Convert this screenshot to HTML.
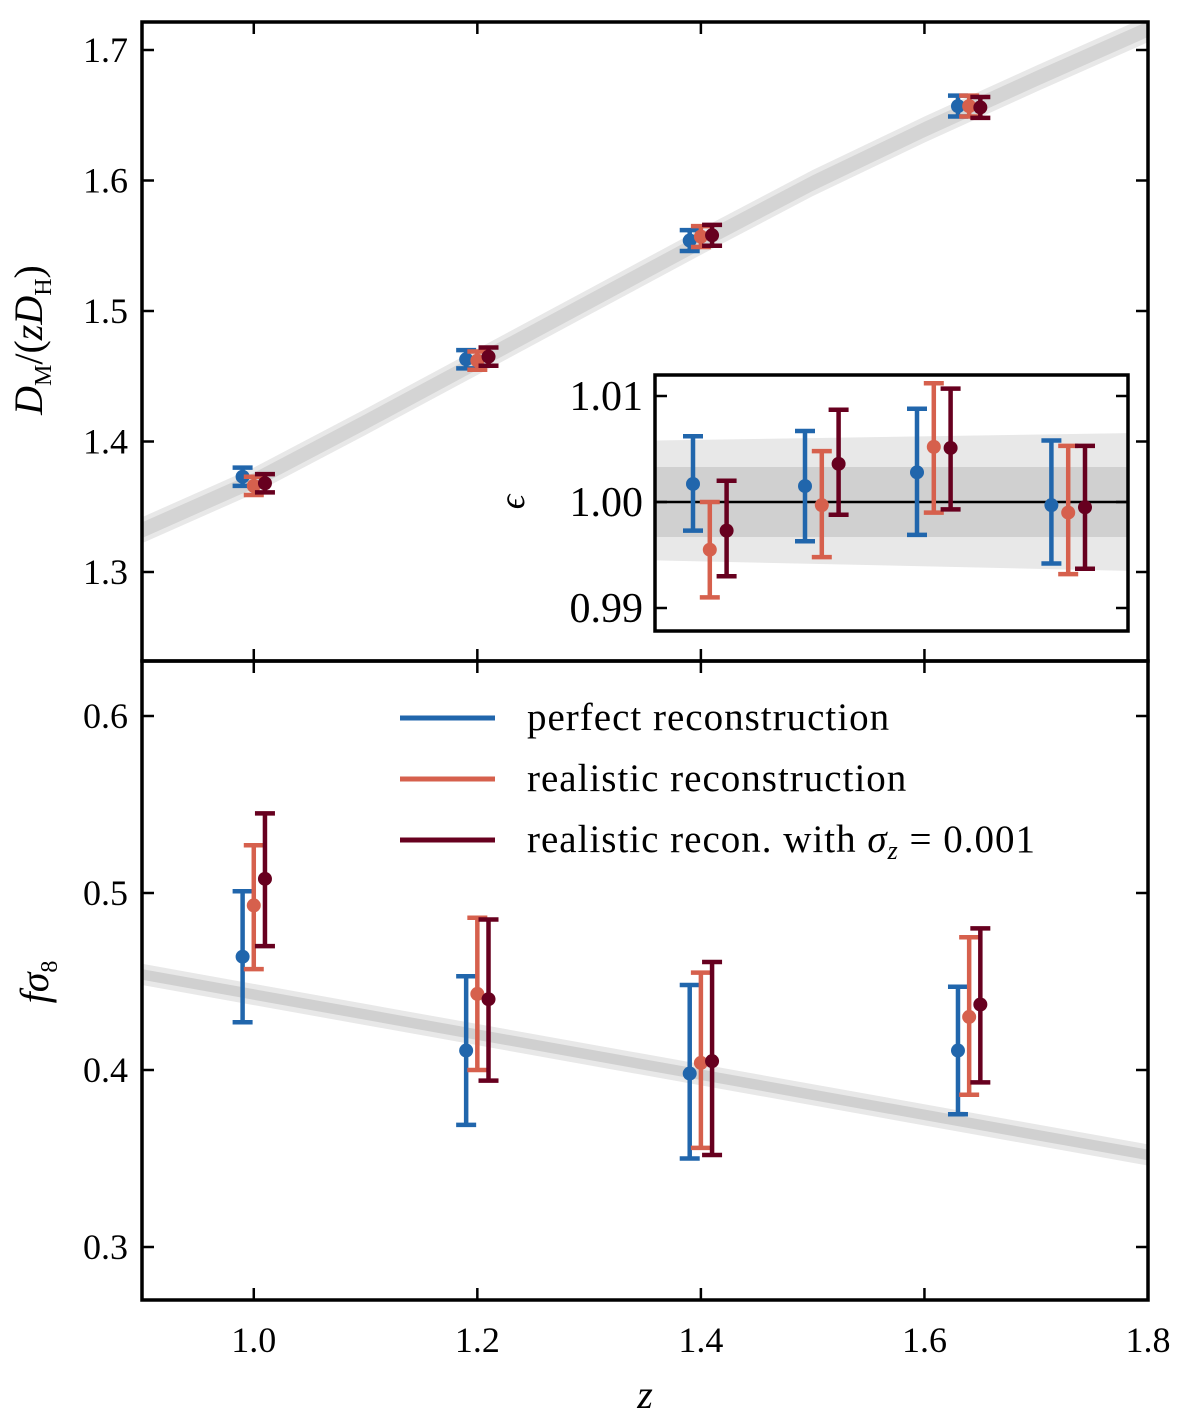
<!DOCTYPE html>
<html><head><meta charset="utf-8"><style>
html,body{margin:0;padding:0;background:#fff;}
svg{display:block;font-family:"Liberation Serif",serif;}
</style></head><body>
<svg id="fig" width="1200" height="1424" xmlns="http://www.w3.org/2000/svg"></svg>
<script>
// ---- data ----
const zCenters = [1.0, 1.2, 1.4, 1.6];
const seriesNames = ["perfect reconstruction", "realistic reconstruction", "realistic recon. with σz = 0.001"];
const seriesColors = ["#2166ac", "#d6604d", "#67001f"];
const zOffsets = [-0.01, 0.0, 0.01];
const zLast = [1.63, 1.64, 1.65];
// top: DM/(zDH)
const dmVal = [[1.373,1.463,1.554,1.657],[1.366,1.462,1.557,1.657],[1.368,1.465,1.558,1.656]];
const dmErr = [[0.007,0.007,0.008,0.008],[0.007,0.007,0.008,0.008],[0.007,0.007,0.008,0.008]];
const dmBandZ = [0.9, 1.0, 1.1, 1.2, 1.3, 1.4, 1.5, 1.6, 1.7, 1.8];
const dmBandMid = [1.332, 1.370, 1.415, 1.461, 1.507, 1.553, 1.598, 1.639, 1.678, 1.716];
const dmBandLight = [0.010,0.010,0.010,0.010,0.010,0.010,0.010,0.010,0.010,0.010];
const dmBandDark = [0.006,0.006,0.006,0.006,0.006,0.006,0.006,0.006,0.006,0.006];
// bottom: f sigma8
const fsVal = [[0.464,0.411,0.398,0.411],[0.493,0.443,0.404,0.430],[0.508,0.440,0.405,0.437]];
const fsLo = [[0.427,0.369,0.350,0.375],[0.457,0.400,0.356,0.386],[0.470,0.394,0.352,0.393]];
const fsHi = [[0.501,0.453,0.448,0.447],[0.527,0.486,0.455,0.475],[0.545,0.485,0.461,0.480]];
const fsBandZ = [0.9, 1.8];
const fsBandMid = [0.454, 0.352];
const fsBandLight = [0.006, 0.006];
const fsBandDark = [0.003, 0.003];
// inset: epsilon
const epsZ = [0.99, 1.19, 1.39, 1.63];
const epsOff = [0, 0.03, 0.06];
const epsVal = [[1.0017,1.0015,1.0028,0.9997],[0.9955,0.9997,1.0052,0.9990],[0.9973,1.0036,1.0051,0.9995]];
const epsLo = [[0.9973,0.9963,0.9969,0.9942],[0.9910,0.9948,0.9990,0.9932],[0.9930,0.9988,0.9993,0.9937]];
const epsHi = [[1.0062,1.0067,1.0088,1.0058],[1.0000,1.0048,1.0112,1.0053],[1.0020,1.0087,1.0107,1.0053]];
const epsBandZ = [0.92, 1.77];
const epsBandLightHi = [1.0058, 1.0065];
const epsBandLightLo = [0.9945, 0.9935];
const epsBandDarkHi = [1.0033, 1.0033];
const epsBandDarkLo = [0.9967, 0.9967];
const xTicks = [1.0, 1.2, 1.4, 1.6, 1.8];
const dmTicks = [1.3, 1.4, 1.5, 1.6, 1.7];
const fsTicks = [0.3, 0.4, 0.5, 0.6];
const epsTicks = [0.99, 1.00, 1.01];

// ---- scales ----
const L=142, R=1148;
const X = z => L + (z-0.9)/(0.9)*(R-L);
const T0=22, T1=661, B1=1300;
const Ytop = v => 572 - (v-1.3)*1305;
const Ybot = v => 716 + (0.6-v)*1770;
const IL=655, IR=1128, IT=375, IB=631;
const Xi = z => 693 + (z-0.99)*560;
const Yi = v => 502 - (v-1.0)*10600;

const svg = document.getElementById('fig');
const NS="http://www.w3.org/2000/svg";
function mk(tag, attrs, parent){const e=document.createElementNS(NS,tag);for(const k in attrs)e.setAttribute(k,attrs[k]);(parent||svg).appendChild(e);return e;}

const defs=mk('defs',{});
let c=mk('clipPath',{id:'ct'},defs); mk('rect',{x:L,y:T0,width:R-L,height:T1-T0},c);
c=mk('clipPath',{id:'cb'},defs); mk('rect',{x:L,y:T1,width:R-L,height:B1-T1},c);
c=mk('clipPath',{id:'ci'},defs); mk('rect',{x:IL,y:IT,width:IR-IL,height:IB-IT},c);

function band(g, zs, lo, hi, xs, ys, fill, name){
  let d='';
  zs.forEach((z,i)=>{d+=(i?'L':'M')+xs(z)+','+ys(hi[i]);});
  for(let i=zs.length-1;i>=0;i--) d+='L'+xs(zs[i])+','+ys(lo[i]);
  const p=mk('path',{d:d+'Z',fill:fill},g);
  
  
}
function errbar(g, x, y, ylo, yhi, col, name, cap){
  const grp=mk('g',{},g);
  
  
  mk('line',{x1:x,x2:x,y1:ylo,y2:yhi,stroke:col,'stroke-width':4.5},grp);
  mk('line',{x1:x-cap,x2:x+cap,y1:ylo,y2:ylo,stroke:col,'stroke-width':4.5},grp);
  mk('line',{x1:x-cap,x2:x+cap,y1:yhi,y2:yhi,stroke:col,'stroke-width':4.5},grp);
  mk('circle',{cx:x,cy:y,r:7,fill:col},grp);
}

// ---- top panel ----
const gt=mk('g',{'clip-path':'url(#ct)'});


band(gt, dmBandZ, dmBandMid.map((m,i)=>m-dmBandLight[i]), dmBandMid.map((m,i)=>m+dmBandLight[i]), X, Ytop, '#e8e8e8','dm-band-outer');
band(gt, dmBandZ, dmBandMid.map((m,i)=>m-dmBandDark[i]), dmBandMid.map((m,i)=>m+dmBandDark[i]), X, Ytop, '#d4d4d4','dm-band-inner');
for(let s=0;s<3;s++) for(let i=0;i<4;i++){
  const z = i===3 ? zLast[s] : zCenters[i]+zOffsets[s];
  errbar(gt, X(z), Ytop(dmVal[s][i]), Ytop(dmVal[s][i]-dmErr[s][i]), Ytop(dmVal[s][i]+dmErr[s][i]), seriesColors[s], 'dm-point', 10);
}

// ---- bottom panel ----
const gb=mk('g',{'clip-path':'url(#cb)'});


band(gb, fsBandZ, fsBandMid.map((m,i)=>m-fsBandLight[i]), fsBandMid.map((m,i)=>m+fsBandLight[i]), X, Ybot, '#e8e8e8','fs-band-outer');
band(gb, fsBandZ, fsBandMid.map((m,i)=>m-fsBandDark[i]), fsBandMid.map((m,i)=>m+fsBandDark[i]), X, Ybot, '#d0d0d0','fs-band-inner');
for(let s=0;s<3;s++) for(let i=0;i<4;i++){
  const z = i===3 ? zLast[s] : zCenters[i]+zOffsets[s];
  errbar(gb, X(z), Ybot(fsVal[s][i]), Ybot(fsLo[s][i]), Ybot(fsHi[s][i]), seriesColors[s], 'fs-point', 10);
}

let f=mk('rect',{x:L,y:T0,width:R-L,height:T1-T0,fill:'none',stroke:'#000','stroke-width':3.5});
 
f=mk('rect',{x:L,y:T1,width:R-L,height:B1-T1,fill:'none',stroke:'#000','stroke-width':3.5});
 

function text(x,y,str,anchor,size,name){
  const t=mk('text',{x:x,y:y,'text-anchor':anchor,'font-size':size,fill:'#000'});
  t.textContent=str;
  
  
  return t;
}
xTicks.forEach(z=>{
  const x=X(z);
  [T0,T1].forEach(y=>mk('line',{x1:x,x2:x,y1:y,y2:y+12,stroke:'#000','stroke-width':2.5}));
  [T1,B1].forEach(y=>mk('line',{x1:x,x2:x,y1:y,y2:y-12,stroke:'#000','stroke-width':2.5}));
  text(x,1352,z.toFixed(1),'middle',36,'x-tick-label');
});
dmTicks.forEach(v=>{
  const y=Ytop(v);
  mk('line',{x1:L,x2:L+12,y1:y,y2:y,stroke:'#000','stroke-width':2.5});
  mk('line',{x1:R,x2:R-12,y1:y,y2:y,stroke:'#000','stroke-width':2.5});
  text(L-14,y+12,v.toFixed(1),'end',36,'dm-tick-label');
});
fsTicks.forEach(v=>{
  const y=Ybot(v);
  mk('line',{x1:L,x2:L+12,y1:y,y2:y,stroke:'#000','stroke-width':2.5});
  mk('line',{x1:R,x2:R-12,y1:y,y2:y,stroke:'#000','stroke-width':2.5});
  text(L-14,y+12,v.toFixed(1),'end',36,'fs-tick-label');
});

let t=mk('text',{x:0,y:0,'text-anchor':'middle','font-size':40,transform:'translate(42,340) rotate(-90)','font-style':'italic'});
t.innerHTML='D<tspan font-size="24" font-style="normal" dy="9">M</tspan><tspan dy="-9" font-style="normal">/(</tspan>zD<tspan font-size="24" font-style="normal" dy="9">H</tspan><tspan dy="-9" font-style="normal">)</tspan>';
 
t=mk('text',{x:0,y:0,'text-anchor':'middle','font-size':40,transform:'translate(48,982) rotate(-90)','font-style':'italic'});
t.innerHTML='fσ<tspan font-size="24" font-style="normal" dy="9">8</tspan>';
 
t=text(645,1408,'z','middle',40,'x-axis-title'); t.setAttribute('font-style','italic');

// ---- inset ----
const ibg=mk('rect',{x:IL,y:IT,width:IR-IL,height:IB-IT,fill:'#fff'});
 
const gi=mk('g',{'clip-path':'url(#ci)'});


band(gi, epsBandZ, epsBandLightLo, epsBandLightHi, Xi, Yi, '#e8e8e8','eps-band-outer');
band(gi, epsBandZ, epsBandDarkLo, epsBandDarkHi, Xi, Yi, '#d0d0d0','eps-band-inner');
mk('line',{x1:IL,x2:IR,y1:Yi(1.0),y2:Yi(1.0),stroke:'#000','stroke-width':2.5},gi);
for(let s=0;s<3;s++) for(let i=0;i<4;i++){
  const z=epsZ[i]+epsOff[s];
  errbar(gi, Xi(z), Yi(epsVal[s][i]), Yi(epsLo[s][i]), Yi(epsHi[s][i]), seriesColors[s], 'eps-point', 10);
}
f=mk('rect',{x:IL,y:IT,width:IR-IL,height:IB-IT,fill:'none',stroke:'#000','stroke-width':3.5});
 
epsTicks.forEach(v=>{
  const y=Yi(v);
  mk('line',{x1:IL,x2:IL+12,y1:y,y2:y,stroke:'#000','stroke-width':2.5});
  mk('line',{x1:IR,x2:IR-12,y1:y,y2:y,stroke:'#000','stroke-width':2.5});
  text(IL-12,y+14,v.toFixed(2),'end',42,'eps-tick-label');
});
t=mk('text',{x:0,y:0,'text-anchor':'middle','font-size':36,'font-style':'italic',transform:'translate(524,502) rotate(-90)'});
t.textContent='ϵ';
 

// ---- legend ----
const lg=mk('g',{});


const legY=[718,779,840];
for(let s=0;s<3;s++){
  const e=mk('g',{},lg);
  
  
  mk('line',{x1:400,x2:495,y1:legY[s],y2:legY[s],stroke:seriesColors[s],'stroke-width':5},e);
  const tx=mk('text',{x:527,y:legY[s]+12,'font-size':39,'letter-spacing':'1'},e);
  if(s<2) tx.textContent=seriesNames[s];
  else tx.innerHTML='realistic recon. with <tspan font-style="italic">σ</tspan><tspan font-style="italic" font-size="26" dy="7">z</tspan><tspan dy="-7"> = 0.001</tspan>';
}
</script>
</body></html>
